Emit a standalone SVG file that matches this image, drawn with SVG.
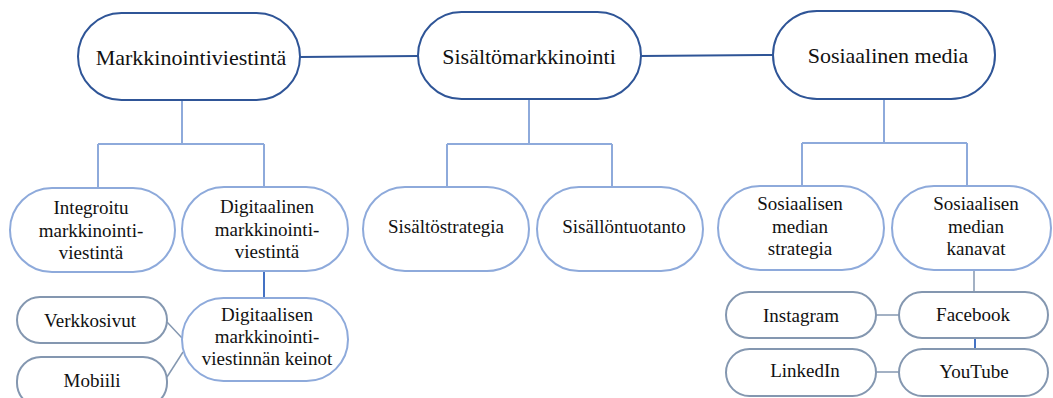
<svg xmlns="http://www.w3.org/2000/svg" width="1053" height="398" viewBox="0 0 1053 398">
<style>
text{font-family:'Liberation Serif','DejaVu Serif',serif;fill:#111;text-anchor:middle}
.top rect{fill:#fff;stroke:#2f5597;stroke-width:2}
.top text{font-size:22px}
.mid rect{fill:#fff;stroke:#8eaadb;stroke-width:2}
.mid text{font-size:19px}
.leaf rect{fill:#fff;stroke:#8497b0;stroke-width:2}
.leaf text{font-size:19px}
.c-dark{stroke:#2f5597;stroke-width:2;fill:none}
.c-light{stroke:#8eaadb;stroke-width:2;fill:none}
.c-blue{stroke:#4472c4;stroke-width:2;fill:none}
.c-gray{stroke:#8497b0;stroke-width:1.5;fill:none}
</style>
<rect width="1053" height="398" fill="#fff"/>
<g id="connectors">
<path class="c-dark" d="M300 57 L418 56"/>
<path class="c-dark" d="M641 56 L773 55"/>
<path class="c-light" d="M182 100 V144 M98 144 H264 M98 144 V188 M264 144 V187"/>
<path class="c-light" d="M529 99 V144 M447 144 H612 M447 144 V187 M612 144 V187"/>
<path class="c-light" d="M884 99 V143 M802 143 H967 M802 143 V186 M967 143 V186"/>
<path class="c-blue" d="M264 271 V298"/>
<path class="c-gray" d="M167 322 L182 338"/>
<path class="c-gray" d="M167 377 L183 352"/>
<path class="c-gray" d="M974 270 V292"/>
<path class="c-gray" d="M876 315 H899"/>
<path class="c-blue" d="M975 338 V349"/>
<path class="c-gray" d="M876 372 H899"/>
</g>
<g id="n-markkinointiviestinta" class="top"><rect x="78" y="13" width="222" height="87" rx="43.5"/><text x="191" y="65">Markkinointiviestintä</text></g>
<g id="n-sisaltomarkkinointi" class="top"><rect x="418" y="12" width="223" height="87" rx="43.5"/><text x="529" y="64">Sisältömarkkinointi</text></g>
<g id="n-sosiaalinen-media" class="top"><rect x="773" y="11" width="222" height="88" rx="44"/><text x="888" y="63">Sosiaalinen media</text></g>
<g id="n-integroitu" class="mid"><rect x="10" y="188" width="165" height="84" rx="42"/><text x="91" y="214">Integroitu</text><text x="91" y="237">markkinointi-</text><text x="91" y="259">viestintä</text></g>
<g id="n-digitaalinen" class="mid"><rect x="182" y="187" width="166" height="84" rx="42"/><text x="267" y="213">Digitaalinen</text><text x="267" y="236">markkinointi-</text><text x="267" y="258">viestintä</text></g>
<g id="n-keinot" class="mid"><rect x="182" y="298" width="166" height="83" rx="41.5"/><text x="267" y="321">Digitaalisen</text><text x="267" y="343">markkinointi-</text><text x="267" y="365">viestinnän keinot</text></g>
<g id="n-verkkosivut" class="leaf"><rect x="17" y="297" width="150" height="46" rx="23"/><text x="90" y="327">Verkkosivut</text></g>
<g id="n-mobiili" class="leaf"><rect x="17" y="357" width="150" height="50" rx="24"/><text x="92" y="387">Mobiili</text></g>
<g id="n-sisaltostrategia" class="mid"><rect x="363" y="187" width="166" height="84" rx="42"/><text x="446" y="233">Sisältöstrategia</text></g>
<g id="n-sisallontuotanto" class="mid"><rect x="537" y="187" width="166" height="84" rx="42"/><text x="624" y="233">Sisällöntuotanto</text></g>
<g id="n-some-strategia" class="mid"><rect x="718" y="186" width="166" height="84" rx="42"/><text x="800" y="210">Sosiaalisen</text><text x="800" y="233">median</text><text x="800" y="255">strategia</text></g>
<g id="n-some-kanavat" class="mid"><rect x="892" y="186" width="159" height="84" rx="42"/><text x="976" y="210">Sosiaalisen</text><text x="976" y="233">median</text><text x="976" y="255">kanavat</text></g>
<g id="n-instagram" class="leaf"><rect x="726" y="292" width="150" height="46" rx="23"/><text x="801" y="322">Instagram</text></g>
<g id="n-facebook" class="leaf"><rect x="899" y="292" width="149" height="46" rx="23"/><text x="973" y="321">Facebook</text></g>
<g id="n-linkedin" class="leaf"><rect x="726" y="349" width="150" height="47" rx="23.5"/><text x="805" y="377">LinkedIn</text></g>
<g id="n-youtube" class="leaf"><rect x="899" y="349" width="149" height="47" rx="23.5"/><text x="974" y="378">YouTube</text></g>
</svg>
